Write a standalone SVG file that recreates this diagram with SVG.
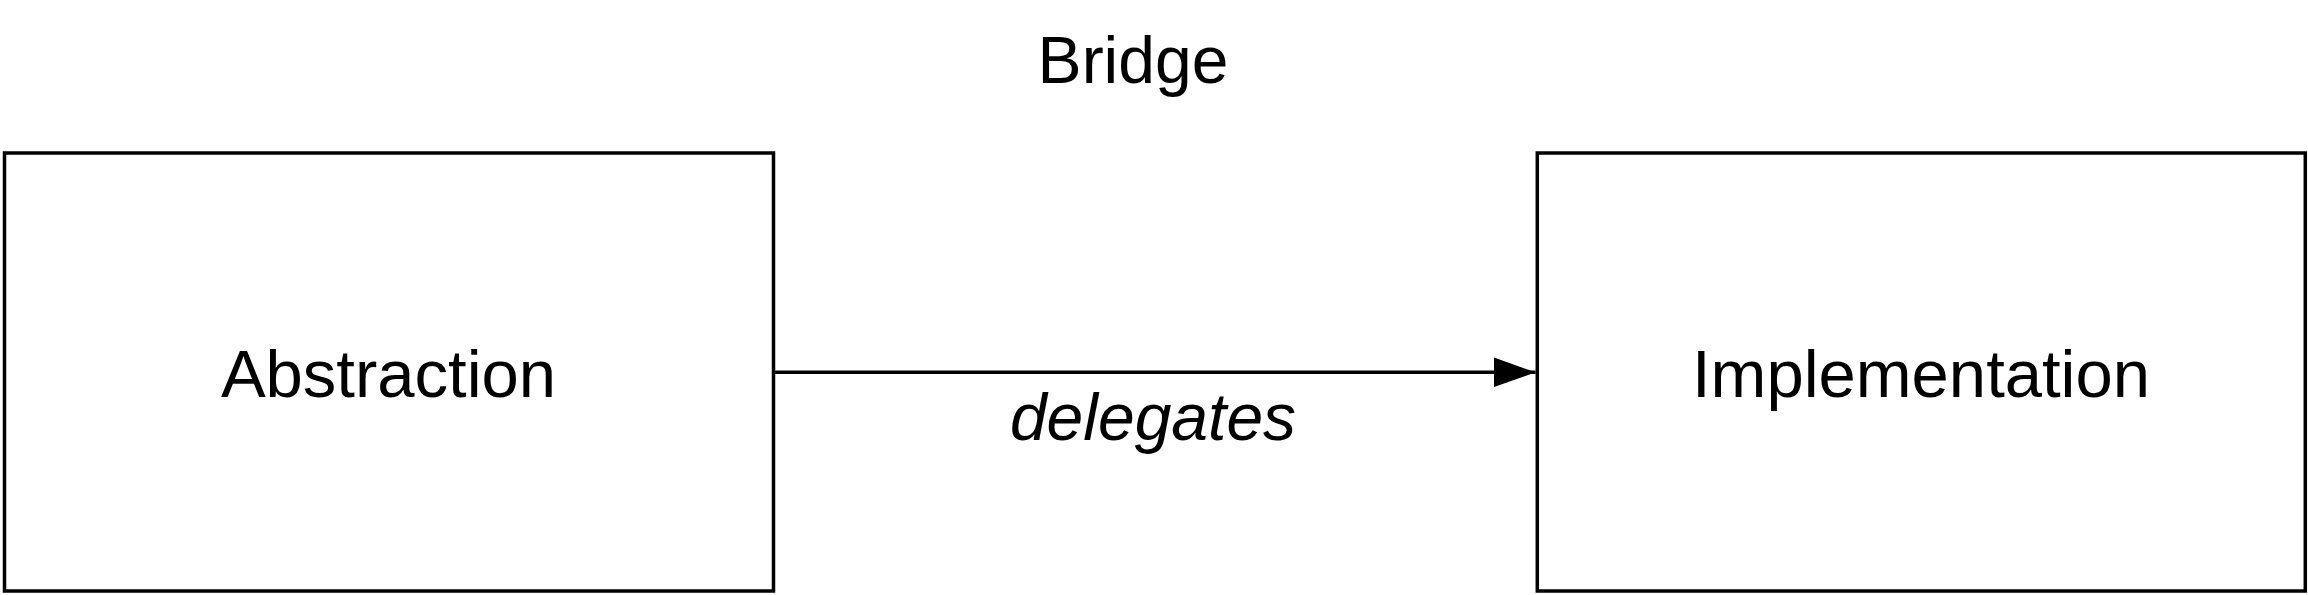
<svg xmlns="http://www.w3.org/2000/svg" width="2308" height="595" viewBox="0 0 2308 595">
<style>
.box{fill:#fff;stroke:#000;stroke-width:3.5}
.lbl{font-family:"Liberation Sans",Arial,sans-serif;font-size:67px;fill:#000;text-anchor:middle}
.edge{stroke:#000;stroke-width:3.5;fill:none}
</style>
<defs>
<marker id="arr" markerUnits="userSpaceOnUse" markerWidth="44" markerHeight="32" refX="42" refY="15" orient="auto">
<path d="M0,0 L42,15 L0,30 Z" fill="#000"/>
</marker>
</defs>
<rect width="2308" height="595" fill="#fff"/>
<text id="title" class="lbl" x="1133" y="83" style="font-size:66px">Bridge</text>
<g id="abstraction">
<rect class="box" x="4.5" y="153" width="769" height="438"/>
<text class="lbl" x="388.5" y="397">Abstraction</text>
</g>
<g id="implementation">
<rect class="box" x="1537.3" y="153" width="768" height="438"/>
<text class="lbl" x="1921" y="397">Implementation</text>
</g>
<g id="connectors">
<line class="edge" x1="773.5" y1="372.3" x2="1535.5" y2="372.3" marker-end="url(#arr)"/>
<text class="lbl" x="1153" y="440" style="font-size:66px;font-style:italic">delegates</text>
</g>
</svg>
